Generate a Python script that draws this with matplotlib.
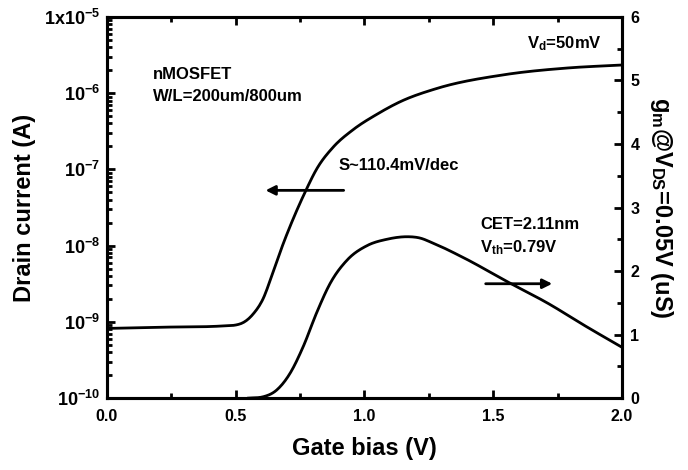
import numpy as np
import matplotlib
matplotlib.use("Agg")
import matplotlib.pyplot as plt
from matplotlib.ticker import LogLocator, MultipleLocator, NullFormatter

plt.rcParams['font.family'] = 'Liberation Sans'
plt.rcParams['font.weight'] = 'bold'
plt.rcParams['axes.labelweight'] = 'bold'
plt.rcParams['mathtext.fontset'] = 'custom'
plt.rcParams['mathtext.rm'] = 'Liberation Sans:bold'
plt.rcParams['mathtext.it'] = 'Liberation Sans:bold'
plt.rcParams['mathtext.bf'] = 'Liberation Sans:bold'

# drain current (log axis)
vg_id = [0.0, 0.2, 0.44, 0.517, 0.567, 0.606, 0.645, 0.684, 0.722, 0.769,
         0.815, 0.878, 0.955, 1.049, 1.138, 1.28, 1.54, 1.79, 2.0]
id_a = [8.2e-10, 8.5e-10, 8.8e-10, 9.4e-10, 1.26e-9, 2.0e-9, 4.5e-9, 1.05e-8, 2.2e-8, 5.0e-8,
        1.02e-7, 1.95e-7, 3.3e-7, 5.3e-7, 7.7e-7, 1.15e-6, 1.74e-6, 2.14e-6, 2.34e-6]

# transconductance (right axis)
vg_gm = [0.55, 0.606, 0.66, 0.711, 0.761, 0.816, 0.866, 0.932, 1.01, 1.087, 1.165, 1.215,
         1.266, 1.38, 1.565, 1.709, 1.864, 2.0]
gm_us = [0.0, 0.02, 0.13, 0.39, 0.80, 1.36, 1.80, 2.17, 2.40, 2.50, 2.54, 2.52,
         2.44, 2.22, 1.81, 1.50, 1.12, 0.80]

left_ticks = [1e-10, 1e-9, 1e-8, 1e-7, 1e-6, 1e-5]
left_labels = ['$10^{-10}$', '$10^{-9}$', '$10^{-8}$', '$10^{-7}$', '$10^{-6}$', '1x$10^{-5}$']


def smooth(x, y, xs):
    # cubic hermite through the read points, slopes limited so nothing overshoots
    x = np.asarray(x, float)
    y = np.asarray(y, float)
    h = np.diff(x)
    d = np.diff(y) / h
    m = np.zeros_like(y)
    m[0], m[-1] = d[0], d[-1]
    m[1:-1] = (h[1:] * d[:-1] + h[:-1] * d[1:]) / (h[:-1] + h[1:])
    for k in range(1, len(x) - 1):
        if d[k - 1] * d[k] <= 0:
            m[k] = 0.0
        else:
            lim = 3 * min(abs(d[k - 1]), abs(d[k]))
            m[k] = np.sign(m[k]) * min(abs(m[k]), lim)
    i = np.clip(np.searchsorted(x, xs) - 1, 0, len(x) - 2)
    t = (xs - x[i]) / h[i]
    h00 = 2 * t**3 - 3 * t**2 + 1
    h10 = t**3 - 2 * t**2 + t
    h01 = -2 * t**3 + 3 * t**2
    h11 = t**3 - t**2
    return h00 * y[i] + h10 * h[i] * m[i] + h01 * y[i + 1] + h11 * h[i] * m[i + 1]


fig = plt.figure(figsize=(6.88, 4.70), dpi=100)
ax = fig.add_axes([0.1555, 0.153, 0.7485, 0.811])
ax2 = ax.twinx()

xs = np.linspace(0, 2, 400)
ax.semilogy(xs, 10 ** smooth(vg_id, np.log10(id_a), xs), color='black', lw=2.0)
xg = np.linspace(vg_gm[0], 2, 400)
ax2.plot(xg, np.clip(smooth(vg_gm, gm_us, xg), 0, None), color='black', lw=2.0)

ax.set_xlim(0, 2.0)
ax.set_ylim(1e-10, 1e-5)
ax2.set_ylim(0, 6)
ax.set_yticks(left_ticks)
ax.set_yticklabels(left_labels, fontsize=13)
ax.yaxis.set_minor_locator(LogLocator(base=10, subs=np.arange(2, 10)))
ax.yaxis.set_minor_formatter(NullFormatter())
ax.xaxis.set_minor_locator(MultipleLocator(0.25))
ax.set_xticks([0.0, 0.5, 1.0, 1.5, 2.0])
ax.set_xticklabels(['0.0', '0.5', '1.0', '1.5', '2.0'], fontsize=11.5)
ax2.yaxis.set_major_locator(MultipleLocator(1))
ax2.yaxis.set_minor_locator(MultipleLocator(0.5))
ax2.tick_params(axis='y', labelsize=11.5)

for a in (ax, ax2):
    for s in a.spines.values():
        s.set_linewidth(2.2)
ax.tick_params(which='both', direction='in', width=2, top=True, right=False)
ax.tick_params(which='major', length=6)
ax.tick_params(which='minor', length=3.5)
ax.tick_params(axis='x', pad=8)
ax.tick_params(axis='y', pad=5)
ax2.tick_params(which='both', direction='in', width=2)
ax2.tick_params(which='major', length=6, pad=6)
ax2.tick_params(which='minor', length=3.5)

ax.set_xlabel('Gate bias (V)', fontsize=17, fontweight='bold', labelpad=9)
ax.set_ylabel('Drain current (A)', fontsize=17, fontweight='bold', labelpad=6)
ax2.set_ylabel('g$_m$@V$_{DS}$=0.05V (uS)', fontsize=17, fontweight='bold',
               rotation=270, labelpad=26)

ax.text(0.09, 0.85, 'nMOSFET', transform=ax.transAxes, fontsize=12, va='center')
ax.text(0.09, 0.79, 'W/L=200um/800um', transform=ax.transAxes, fontsize=12, va='center')
ax.text(0.96, 0.93, 'V$_d$=50mV', transform=ax.transAxes, fontsize=12, va='center', ha='right')
ax.text(0.45, 0.61, 'S~110.4mV/dec', transform=ax.transAxes, fontsize=12, va='center')
ax.text(0.725, 0.455, 'CET=2.11nm', transform=ax.transAxes, fontsize=12, va='center')
ax.text(0.725, 0.395, 'V$_{th}$=0.79V', transform=ax.transAxes, fontsize=12, va='center')

ax.annotate('', xy=(0.605, 0.545), xytext=(0.93, 0.545), xycoords=('data', 'axes fraction'),
            arrowprops=dict(arrowstyle='-|>', color='black', lw=2, mutation_scale=14))
ax.annotate('', xy=(1.74, 0.3), xytext=(1.46, 0.3), xycoords=('data', 'axes fraction'),
            arrowprops=dict(arrowstyle='-|>', color='black', lw=2, mutation_scale=14))

fig.savefig('out.png', dpi=100)
